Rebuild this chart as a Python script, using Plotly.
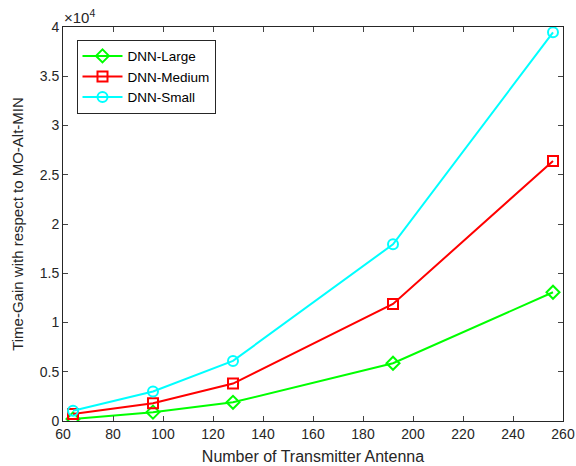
import plotly.graph_objects as go

antennas = [64, 96, 128, 192, 256]
dnn_large = [200, 900, 1900, 5860, 13070]
dnn_medium = [700, 1800, 3800, 11880, 26400]
dnn_small = [1050, 3000, 6100, 17940, 39460]

y_ticks = [0, 5000, 10000, 15000, 20000, 25000, 30000, 35000, 40000]
y_ticktext = ["0", "0.5", "1", "1.5", "2", "2.5", "3", "3.5", "4"]
x_ticks = [60, 80, 100, 120, 140, 160, 180, 200, 220, 240, 260]

series = [
    ("DNN-Large", dnn_large, "#00FF00", "diamond-open"),
    ("DNN-Medium", dnn_medium, "#FF0000", "square-open"),
    ("DNN-Small", dnn_small, "#00FFFF", "circle-open"),
]

fig = go.Figure()
for name, vals, color, sym in series:
    fig.add_trace(go.Scatter(
        x=antennas, y=vals, name=name, mode="lines+markers",
        line=dict(color=color, width=2),
        marker=dict(symbol=sym, size=10, color=color, line=dict(width=2, color=color)),
    ))

axis_color = "#262626"
fig.update_layout(
    width=576, height=466,
    margin=dict(l=63, r=13, t=27, b=45),
    paper_bgcolor="white", plot_bgcolor="white",
    font=dict(family="Liberation Sans, Arial, sans-serif", size=14, color=axis_color),
    showlegend=True,
    legend=dict(
        x=0.027, y=0.968, xanchor="left", yanchor="top",
        bgcolor="white", bordercolor="#262626", borderwidth=1,
        font=dict(size=13.5, color="black"),
        tracegroupgap=0, itemwidth=40,
    ),
    xaxis=dict(
        range=[60, 260], tickvals=x_ticks, ticks="inside", ticklen=5,
        showline=True, linecolor=axis_color, linewidth=1, mirror="ticks",
        showgrid=False, zeroline=False, automargin=False,
        title=dict(text="Number of Transmitter Antenna", font=dict(size=16), standoff=10),
        tickfont=dict(size=14),
    ),
    yaxis=dict(
        range=[0, 40000], tickvals=y_ticks, ticktext=y_ticktext, ticks="inside", ticklen=5,
        showline=True, linecolor=axis_color, linewidth=1, mirror="ticks",
        showgrid=False, zeroline=False, automargin=False,
        title=dict(text="Time-Gain with respect to MO-Alt-MIN", font=dict(size=15), standoff=12),
        tickfont=dict(size=14),
    ),
)

fig.add_annotation(
    xref="paper", yref="paper", x=0.0, y=1.0, xanchor="left", yanchor="bottom",
    text="×10<sup>4</sup>", showarrow=False, font=dict(size=15, color=axis_color),
    yshift=-1, xshift=-1,
)

fig.write_html("out.html")
